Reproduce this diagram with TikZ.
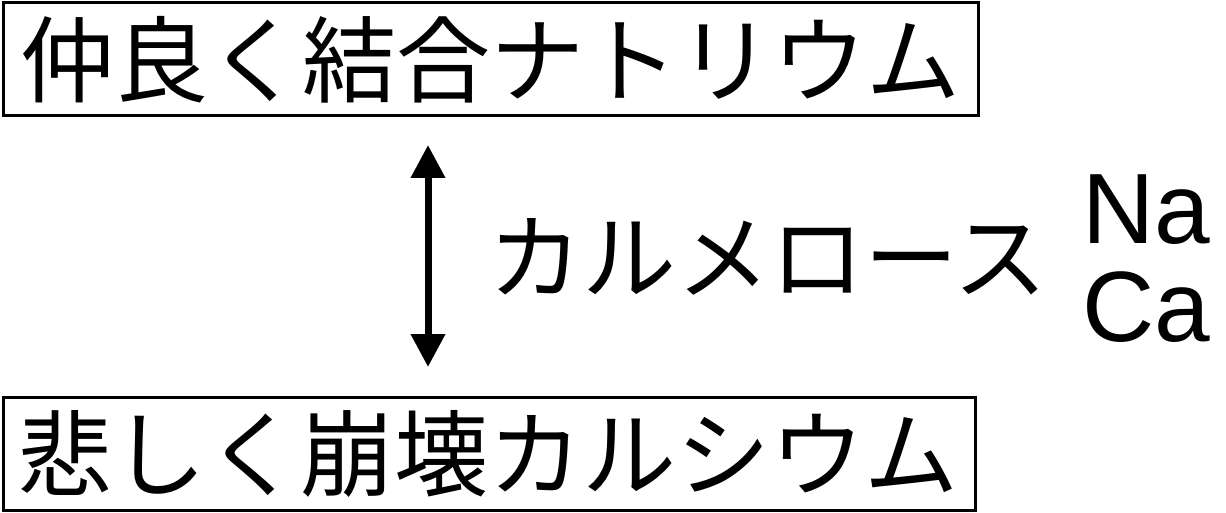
\documentclass[tikz,border=0pt]{standalone}
\usepackage{fontspec}
\usepackage{tikz}
\usetikzlibrary{arrows.meta}
\newfontfamily\jpfont{Noto Sans CJK JP}
\newfontfamily\elfont{Liberation Sans}

\begin{document}
\begin{tikzpicture}[x=1pt, y=1pt,
        namebox/.style={draw, line width=3pt, inner sep=0pt, font=\jpfont\fontsize{94}{100}\selectfont},
        elem/.style={inner sep=0pt, font=\elfont\fontsize{100}{100}\selectfont}]
        \useasboundingbox (0, 0) rectangle (1226, 512);

        \node[namebox, minimum width=975pt, minimum height=113pt] (bond) at (490.5, 452.5) {仲良く結合ナトリウム};
        \node[namebox, minimum width=972pt, minimum height=113pt] (break) at (489.0, 58.5) {悲しく崩壊カルシウム};

        \coordinate (up) at (428.0, 367.0);
        \coordinate (down) at (428.0, 145.0);
        \draw[line width=7pt, {Triangle[width=33pt, length=33pt]}-{Triangle[width=33pt, length=33pt]}] (up) -- (down);

        \node[inner sep=0pt, font=\jpfont\fontsize{94}{100}\selectfont] (cmc) at (768.0, 255.0) {カルメロース};

        \node[elem, anchor=base west] (na) at (1082.0, 268.0) {Na};
        \node[elem, anchor=base west] (ca) at (1082.0, 171.0) {Ca};
    \end{tikzpicture}
\end{document}
